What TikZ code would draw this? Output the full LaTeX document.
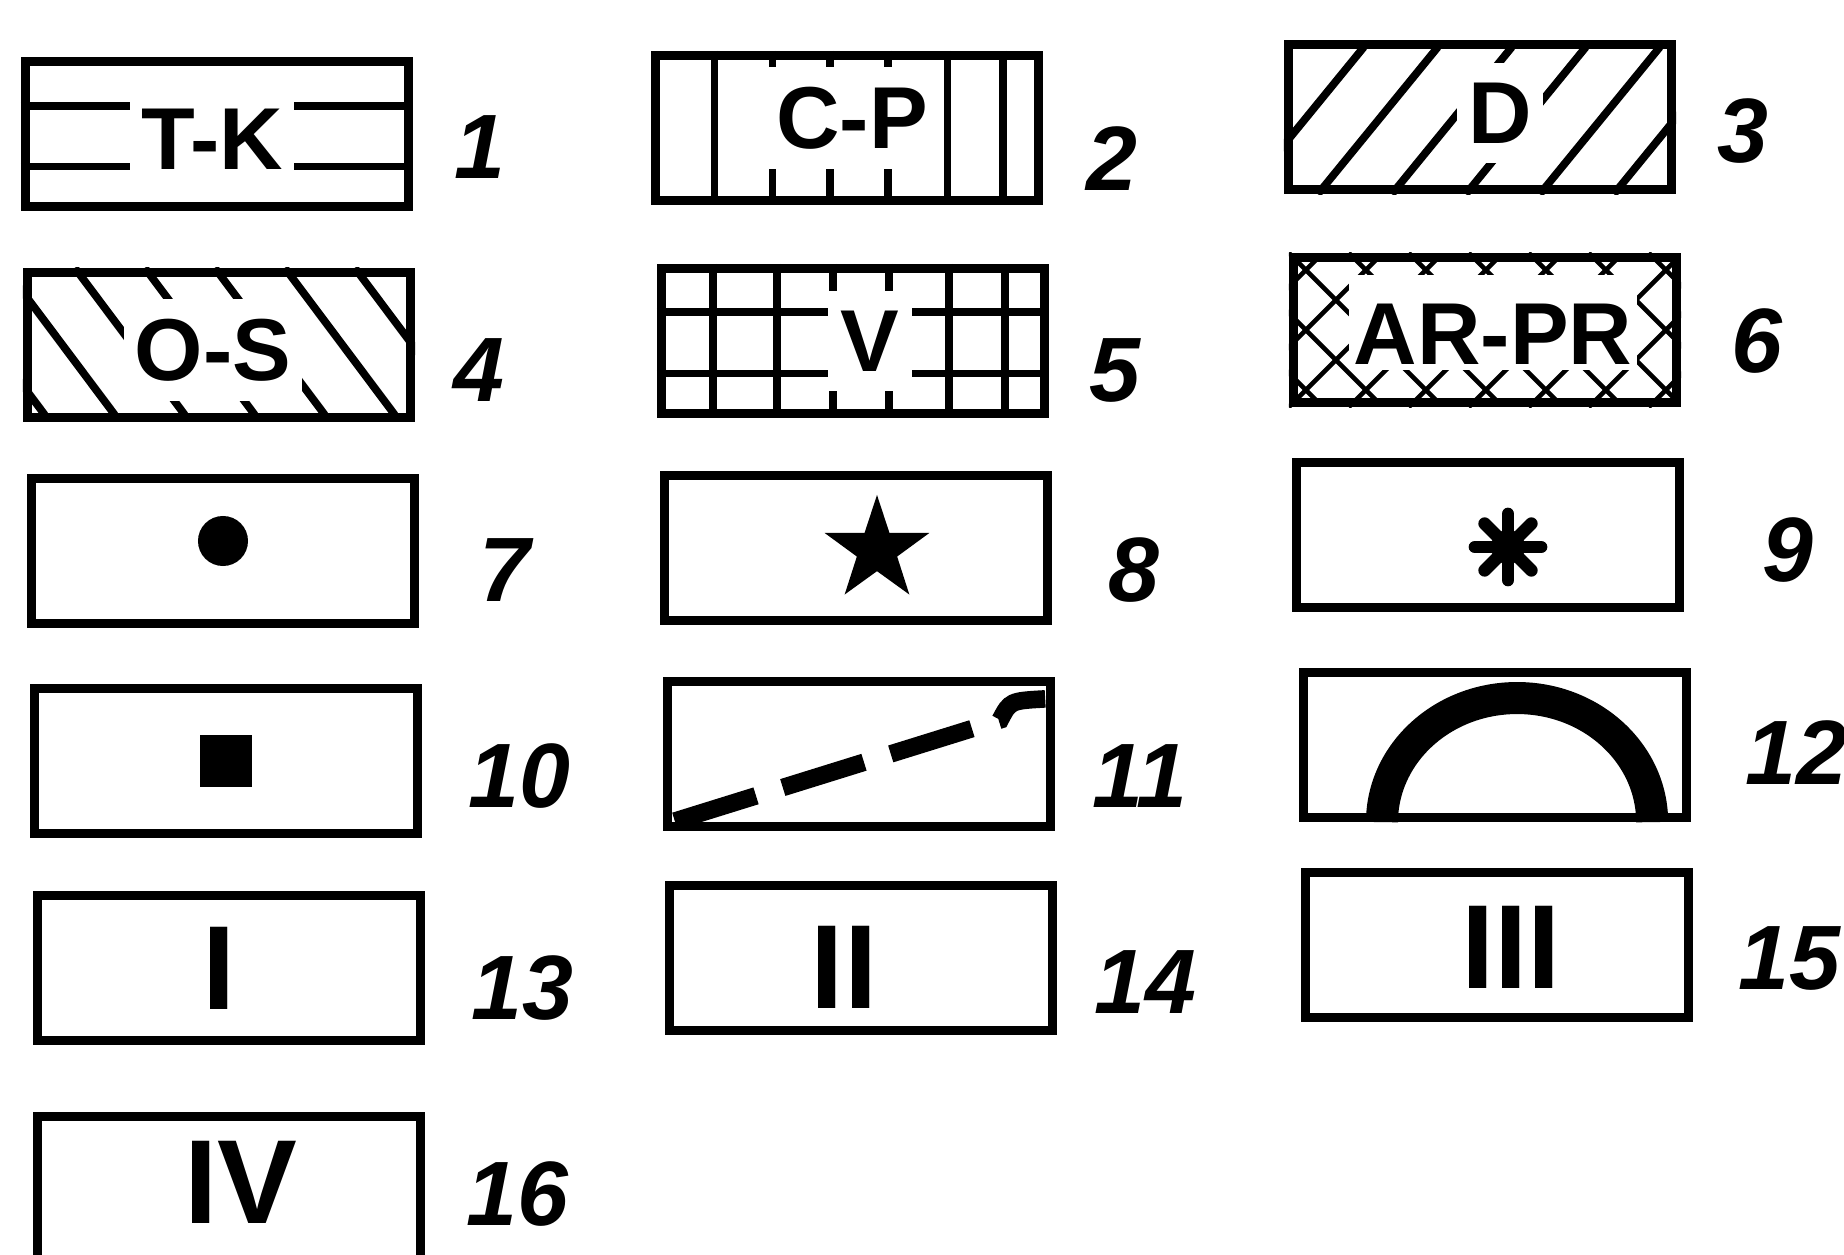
\documentclass[tikz,border=0pt]{standalone}
\usepackage{fontspec}
\setmainfont{Liberation Sans}
\usetikzlibrary{calc,shapes.geometric}
\tikzset{
  legendbox/.style={draw, line width=2.6pt, minimum width=3.83cm, minimum height=1.45cm, inner sep=0pt},
  boxtext/.style={fill=white, inner xsep=1.1mm, inner ysep=2mm, font=\fontsize{25}{28}\selectfont\bfseries},
  romantext/.style={inner sep=0pt, font=\fontsize{34}{38}\selectfont\bfseries},
  numlabel/.style={inner sep=0pt, font=\fontsize{26}{30}\selectfont\bfseries\itshape},
  hatchline/.style={line width=2.2pt},
  thinhatch/.style={line width=1.3pt},
  dashline/.style={line width=5pt, dash pattern=on 0.85cm off 0.28cm},
  archline/.style={line width=0.32cm},
  spoke/.style={line width=3.6pt, line cap=round}
}
\begin{document}
\begin{tikzpicture}[x=0.01cm, y=-0.01cm]
  \useasboundingbox (0,0) rectangle (1844,1255);

  % frames
  \node[legendbox] (box1) at (217,134) {};
  \node[legendbox] (box2) at (847,128) {};
  \node[legendbox] (box3) at (1480,117) {};
  \node[legendbox] (box4) at (219,345) {};
  \node[legendbox] (box5) at (853,341) {};
  \node[legendbox] (box6) at (1485,330) {};
  \node[legendbox] (box7) at (223,551) {};
  \node[legendbox] (box8) at (856,548) {};
  \node[legendbox] (box9) at (1488,535) {};
  \node[legendbox] (box10) at (226,761) {};
  \node[legendbox] (box11) at (859,754) {};
  \node[legendbox] (box12) at (1495,745) {};
  \node[legendbox] (box13) at (229,968) {};
  \node[legendbox] (box14) at (861,958) {};
  \node[legendbox] (box15) at (1497,945) {};
  \node[legendbox] (box16) at (229,1189) {};

  % 1: horizontal lines
  \begin{scope}
    \clip (box1.south west) rectangle (box1.north east);
    \foreach \f in {0.32,0.71}
      \draw[hatchline] ($(box1.north west)!\f!(box1.south west)$) -- ($(box1.north east)!\f!(box1.south east)$);
  \end{scope}
  \node[boxtext] (txt1) at ($(box1)+(-5,5)$) {T-K};

  % 2: vertical lines
  \begin{scope}
    \clip (box2.south west) rectangle (box2.north east);
    \foreach \f in {0.162,0.31,0.457,0.604,0.756,0.898}
      \draw[hatchline] ($(box2.north west)!\f!(box2.north east)$) -- ($(box2.south west)!\f!(box2.south east)$);
  \end{scope}
  \node[boxtext] (txt2) at ($(box2)+(5,-10)$) {C-P};

  % 3: slanted lines
  \begin{scope}
    \clip (box3.south west) rectangle (box3.north east);
    \foreach \k in {0,...,5}
      \draw[hatchline] ($(box3.south west)+(\k*74-40,0)$) -- ++(120,-147);
  \end{scope}
  \node[boxtext] (txt3) at ($(box3)+(20,-4)$) {D};

  % 4: back-slanted lines
  \begin{scope}
    \clip (box4.south west) rectangle (box4.north east);
    \foreach \k in {0,...,6}
      \draw[hatchline] ($(box4.north west)+(\k*70-88,0)$) -- ++(110,147);
  \end{scope}
  \node[boxtext] (txt4) at ($(box4)+(-6,5)$) {O-S};

  % 5: grid
  \begin{scope}
    \clip (box5.south west) rectangle (box5.north east);
    \foreach \f in {0.143,0.306,0.449,0.592,0.745,0.888}
      \draw[hatchline] ($(box5.north west)!\f!(box5.north east)$) -- ($(box5.south west)!\f!(box5.south east)$);
    \foreach \f in {0.31,0.71}
      \draw[hatchline] ($(box5.north west)!\f!(box5.south west)$) -- ($(box5.north east)!\f!(box5.south east)$);
  \end{scope}
  \node[boxtext, minimum width=0.84cm] (txt5) at ($(box5)+(17,0)$) {V};

  % 6: cross hatching
  \begin{scope}
    \clip (box6.south west) rectangle (box6.north east);
    \foreach \k in {-3,...,7} {
      \draw[thinhatch] ($(box6.south west)+(\k*60,0)$) -- ++(147,-147);
      \draw[thinhatch] ($(box6.north west)+(\k*60,0)$) -- ++(147,147);
    }
  \end{scope}
  \node[boxtext, inner xsep=0.5mm, inner ysep=0.5mm, text height=0.85cm, text depth=0pt, anchor=base] (txt6) at ($(box6)+(8,35)$) {AR-PR};

  % 7-12: signs
  \fill ($(box7)+(0,-10)$) circle (0.25cm);
  \node[star, star points=5, star point ratio=2.6, fill=black, minimum size=1.1cm, inner sep=0pt] (star8) at ($(box8)+(21,2)$) {};
  \foreach \a in {0,45,...,315}
    \draw[spoke] ($(box9)+(20,12)$) -- ++(\a:0.33cm);
  \fill ($(box9)+(20,12)$) circle (0.17cm);
  \fill ($(box10)+(-26,-26)$) rectangle ++(52,52);
  \draw[dashline] ($(box11.south west)+(12,-10)$) -- ($(box11.north east)+(-55,43)$)
    .. controls ($(box11.north east)+(-45,24)$) .. ($(box11.north east)+(-10,22)$);
  \begin{scope}
    \clip (box12.south west) rectangle (box12.north east);
    \draw[archline] ($(box12.south)+(-113,0)$) arc[start angle=180, end angle=0, x radius=1.35cm, y radius=1.24cm];
  \end{scope}

  % 13-16: numerals
  \node[romantext] (txt13) at ($(box13)+(-10,0)$) {I};
  \node[romantext] (txt14) at ($(box14)+(-17,9)$) {II};
  \node[romantext] (txt15) at ($(box15)+(14,2)$) {III};
  \node[romantext] (txt16) at ($(box16)+(12,-7)$) {IV};

  % numbers
  \node[numlabel] (num1) at ($(box1.east)+(67,13)$) {1};
  \node[numlabel] (num2) at ($(box2.east)+(69,31)$) {2};
  \node[numlabel] (num3) at ($(box3.east)+(67,14)$) {3};
  \node[numlabel] (num4) at ($(box4.east)+(64,25)$) {4};
  \node[numlabel] (num5) at ($(box5.east)+(66,29)$) {5};
  \node[numlabel] (num6) at ($(box6.east)+(76,11)$) {6};
  \node[numlabel] (num7) at ($(box7.east)+(86,19)$) {7};
  \node[numlabel] (num8) at ($(box8.east)+(82,22)$) {8};
  \node[numlabel] (num9) at ($(box9.east)+(104,15)$) {9};
  \node[numlabel] (num10) at ($(box10.east)+(97,15)$) {10};
  \node[numlabel] (num11) at ($(box11.east)+(85,22)$) {11};
  \node[numlabel] (num12) at ($(box12.east)+(105,8)$) {12};
  \node[numlabel] (num13) at ($(box13.east)+(97,20)$) {13};
  \node[numlabel] (num14) at ($(box14.east)+(88,24)$) {14};
  \node[numlabel] (num15) at ($(box15.east)+(96,13)$) {15};
  \node[numlabel] (num16) at ($(box16.east)+(92,5)$) {16};
\end{tikzpicture}
\end{document}
